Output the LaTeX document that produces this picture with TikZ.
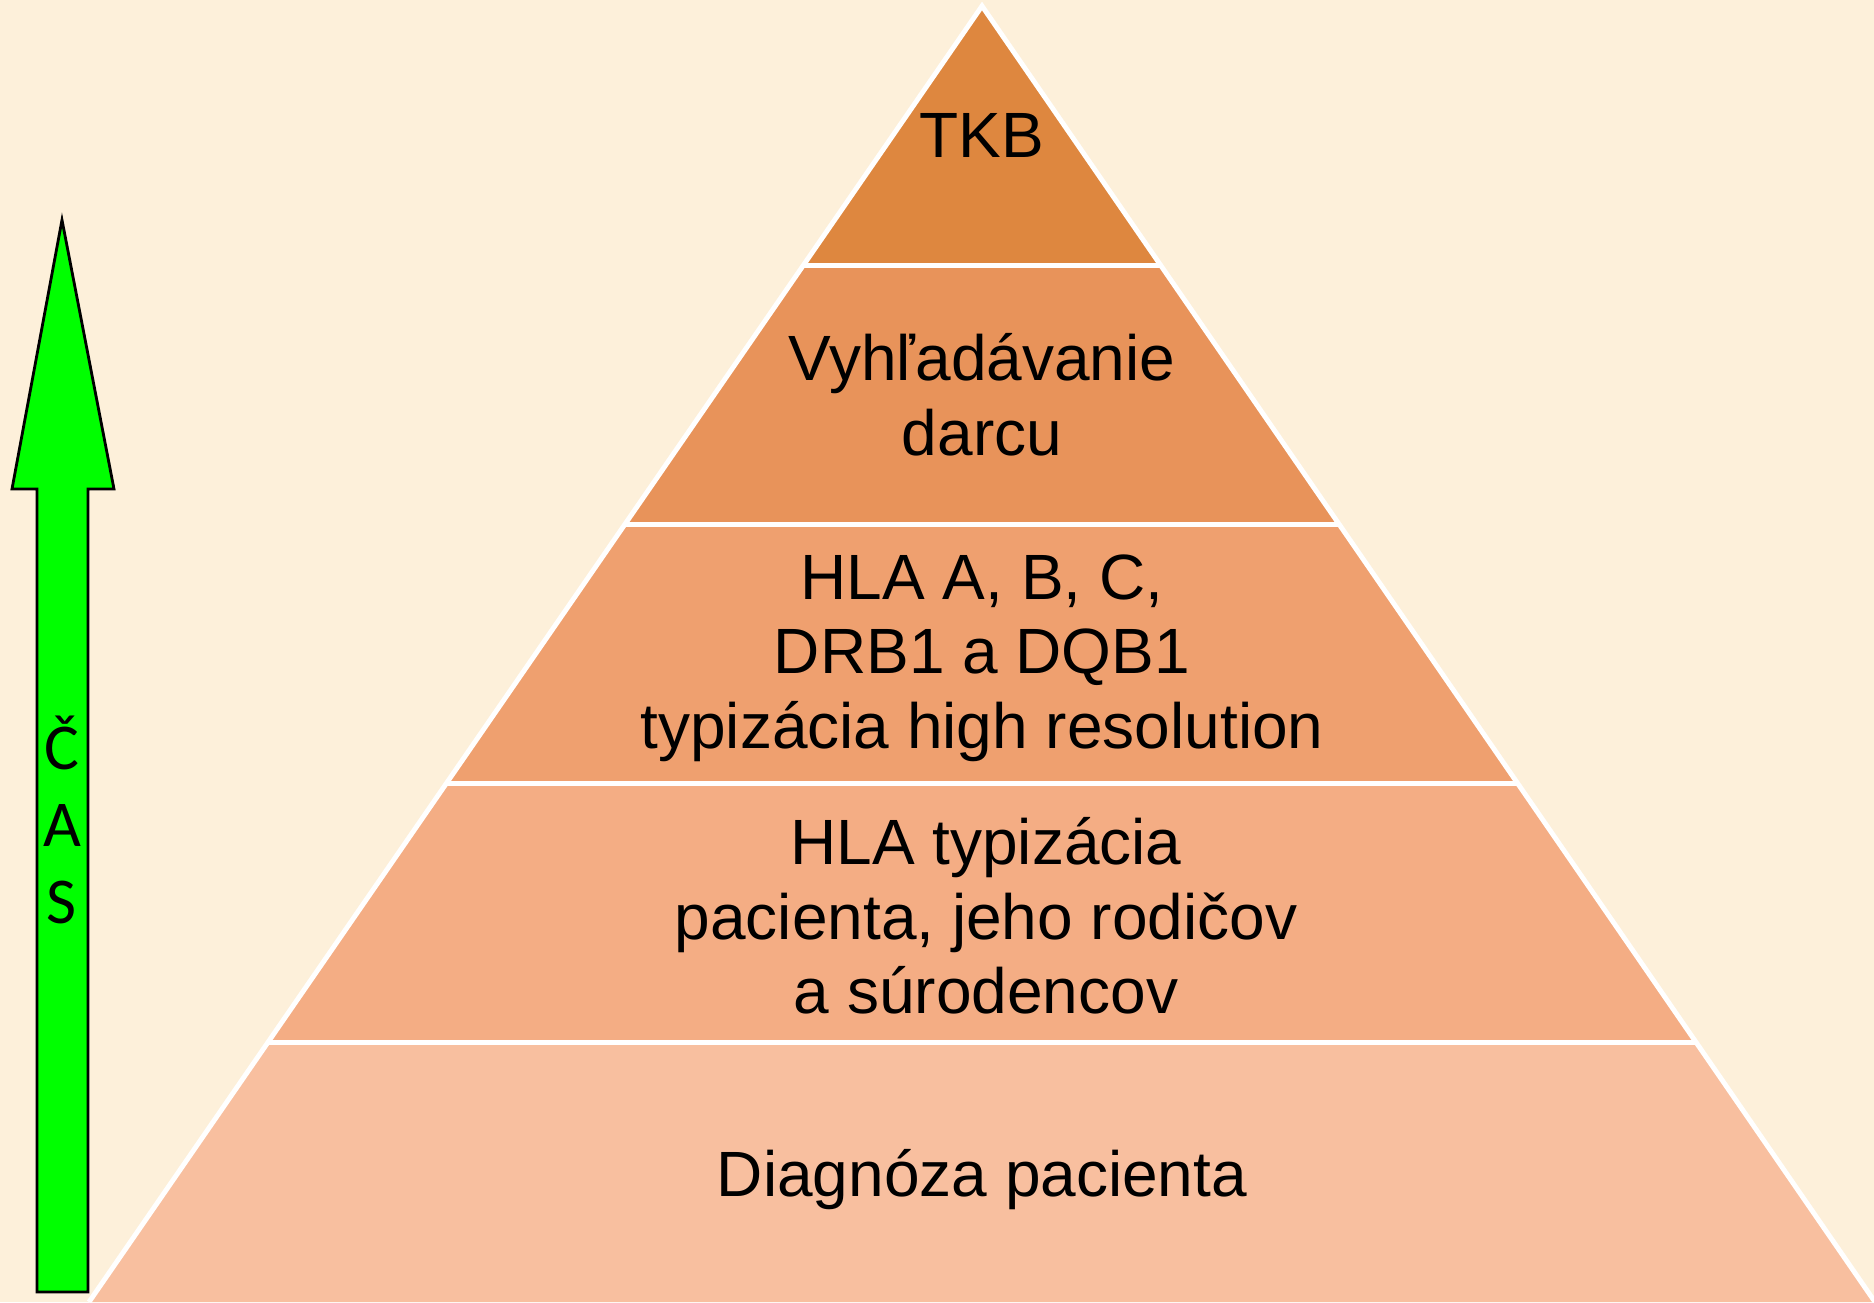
\documentclass[tikz,border=0pt]{standalone}
\usepackage{fontspec}
\setmainfont{Liberation Sans}
\newfontfamily\carlito{Carlito}
\usetikzlibrary{calc}
\definecolor{bgcream}{HTML}{FDF0DA}
\definecolor{bandA}{HTML}{DE873F}
\definecolor{bandB}{HTML}{E8935A}
\definecolor{bandC}{HTML}{EFA06F}
\definecolor{bandD}{HTML}{F4AD84}
\definecolor{bandE}{HTML}{F8BF9F}
\definecolor{arrowgreen}{HTML}{00FF00}
\tikzset{
  bandtext/.style={align=center, font=\fontsize{18.2}{21.2}\selectfont, text=black, inner sep=0pt},
  sepline/.style={draw=white, line width=1.4pt},
  timearrow/.style={fill=arrowgreen, draw=black, line width=0.8pt, line join=miter},
  timetext/.style={align=center, font=\carlito\fontsize{18.6}{21.9}\selectfont, inner sep=0pt}
}
\begin{document}
\begin{tikzpicture}[x=0.01cm, y=-0.01cm]
\fill[bgcream] (0,0) rectangle (1874,1302);
\useasboundingbox (0,0) rectangle (1874,1302);
% pyramid corners
\coordinate (A) at (982,6);
\coordinate (BL) at (89,1302);
\coordinate (BR) at (1875,1302);
\foreach \k in {1,2,3,4} {
  \coordinate (L\k) at ($(A)!\k/5!(BL)$);
  \coordinate (R\k) at ($(A)!\k/5!(BR)$);
}
% bands
\fill[bandA] (A) -- (R1) -- (L1) -- cycle;
\fill[bandB] (L1) -- (R1) -- (R2) -- (L2) -- cycle;
\fill[bandC] (L2) -- (R2) -- (R3) -- (L3) -- cycle;
\fill[bandD] (L3) -- (R3) -- (R4) -- (L4) -- cycle;
\fill[bandE] (L4) -- (R4) -- (BR) -- (BL) -- cycle;
% white separators and outline
\foreach \k in {1,2,3,4} { \draw[sepline] (L\k) -- (R\k); }
\draw[sepline, line join=miter] (BL) -- (A) -- (BR);
% texts
\node[bandtext] (t1) at (982,135) {TKB};
\node[bandtext] (t2) at (982,395) {Vyhľadávanie\\darcu};
\node[bandtext] (t3) at (982,658) {HLA A, B, C,\\DRB1 a DQB1\\typizácia high resolution};
\node[bandtext] (t4) at (986,916) {HLA typizácia\\ pacienta, jeho rodičov\\a súrodencov};
\node[bandtext] (t5) at (982,1180) {Diagnóza pacienta};
% time arrow
\draw[timearrow] (62,220) -- (114,489) -- (88,489) -- (88,1292) -- (37,1292) -- (37,489) -- (12,489) -- cycle;
\node[timetext] (cas) at (62,820) {Č\\A\\S};
\end{tikzpicture}
\end{document}
